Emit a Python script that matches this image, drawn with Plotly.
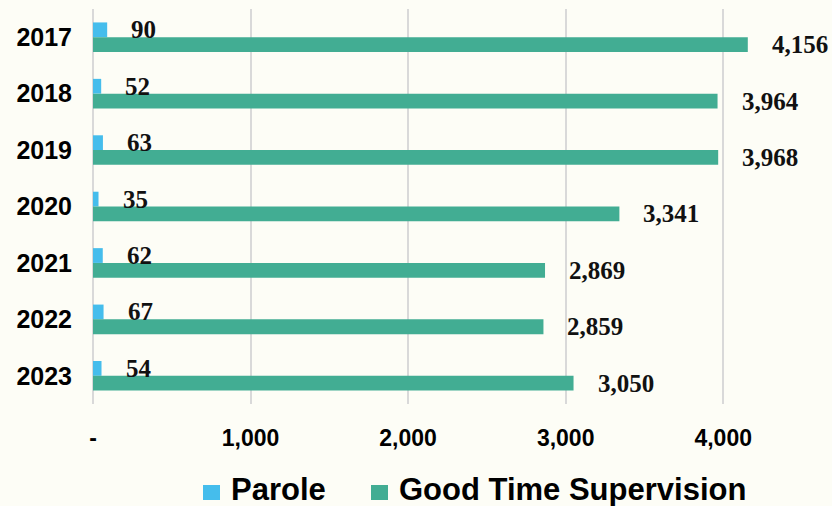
import plotly.graph_objects as go

# Releases by type, per year
years = ["2017", "2018", "2019", "2020", "2021", "2022", "2023"]
parole = [90, 52, 63, 35, 62, 67, 54]
good_time = [4156, 3964, 3968, 3341, 2869, 2859, 3050]
series_names = ["Parole", "Good Time Supervision"]
x_tick_vals = [0, 1000, 2000, 3000, 4000]
x_tick_text = ["-", "1,000", "2,000", "3,000", "4,000"]

PAROLE_COLOR = "#45BDEC"
GTS_COLOR = "#42AD93"
BG = "#FDFDF6"
GRID = "#D9D9D9"

W, H = 832, 506
ML, MR, MT, MB = 93, 30, 9, 102
PW, PH = W - ML - MR, H - MT - MB

BAR_W = 0.262  # thickness of each bar, in category units

idx = list(range(len(years)))

fig = go.Figure()
fig.add_trace(go.Bar(
    y=idx, x=parole, orientation="h", name=series_names[0],
    marker=dict(color=PAROLE_COLOR, line=dict(width=0)),
    width=BAR_W, offset=-BAR_W, showlegend=False,
))
fig.add_trace(go.Bar(
    y=idx, x=good_time, orientation="h", name=series_names[1],
    marker=dict(color=GTS_COLOR, line=dict(width=0)),
    width=BAR_W, offset=0, showlegend=False,
))

label_font = dict(family="Liberation Serif, Times New Roman, serif", size=25, color="#111111")
annotations = []
for i in idx:
    annotations.append(dict(
        x=parole[i], y=i - BAR_W / 2, xref="x", yref="y",
        text=f"<b>{parole[i]:,}</b>", showarrow=False,
        xanchor="left", yanchor="middle", xshift=22, font=label_font,
    ))
    annotations.append(dict(
        x=good_time[i], y=i + BAR_W / 2, xref="x", yref="y",
        text=f"<b>{good_time[i]:,}</b>", showarrow=False,
        xanchor="left", yanchor="middle", xshift=22, font=label_font,
    ))


def px_to_paper_x(px):
    return (px - ML) / PW


def px_to_paper_y(py):
    return (H - MB - py) / PH


# Legend drawn as squares plus bold labels, centred under the plot
legend_font = dict(family="Liberation Sans, Arial, sans-serif", size=31, color="#000000")
legend_items = [
    (series_names[0], PAROLE_COLOR, 203, 229),
    (series_names[1], GTS_COLOR, 371, 397),
]
shapes = []
for name, color, sq_x, txt_x in legend_items:
    shapes.append(dict(
        type="rect", xref="paper", yref="paper",
        x0=px_to_paper_x(sq_x), x1=px_to_paper_x(sq_x + 17),
        y0=px_to_paper_y(500), y1=px_to_paper_y(485),
        fillcolor=color, line=dict(width=0), layer="above",
    ))
    annotations.append(dict(
        x=px_to_paper_x(txt_x), y=px_to_paper_y(489), xref="paper", yref="paper",
        text=f"<b>{name}</b>", showarrow=False, xanchor="left", yanchor="middle",
        font=legend_font,
    ))

tick_font = dict(family="Liberation Sans, Arial, sans-serif", size=23, color="#000000")

fig.update_layout(
    width=W, height=H,
    margin=dict(l=ML, r=MR, t=MT, b=MB),
    paper_bgcolor=BG, plot_bgcolor=BG,
    barmode="overlay",
    showlegend=False,
    annotations=annotations,
    shapes=shapes,
    xaxis=dict(
        range=[0, 4500], tickvals=x_tick_vals, ticktext=[f"<b>{t}</b>" for t in x_tick_text],
        showgrid=True, gridcolor=GRID, gridwidth=1.5,
        zeroline=True, zerolinecolor=GRID, zerolinewidth=2,
        showline=False, ticks="", tickfont=tick_font, ticklabelstandoff=18,
    ),
    yaxis=dict(
        range=[len(years) - 0.5, -0.5], tickvals=idx, ticktext=[f"<b>{y}</b>" for y in years],
        showgrid=False, zeroline=False, showline=False, ticks="",
        tickfont=dict(family="Liberation Sans, Arial, sans-serif", size=25, color="#000000"),
        ticklabelstandoff=20,
    ),
)

fig.write_html("out.html")
